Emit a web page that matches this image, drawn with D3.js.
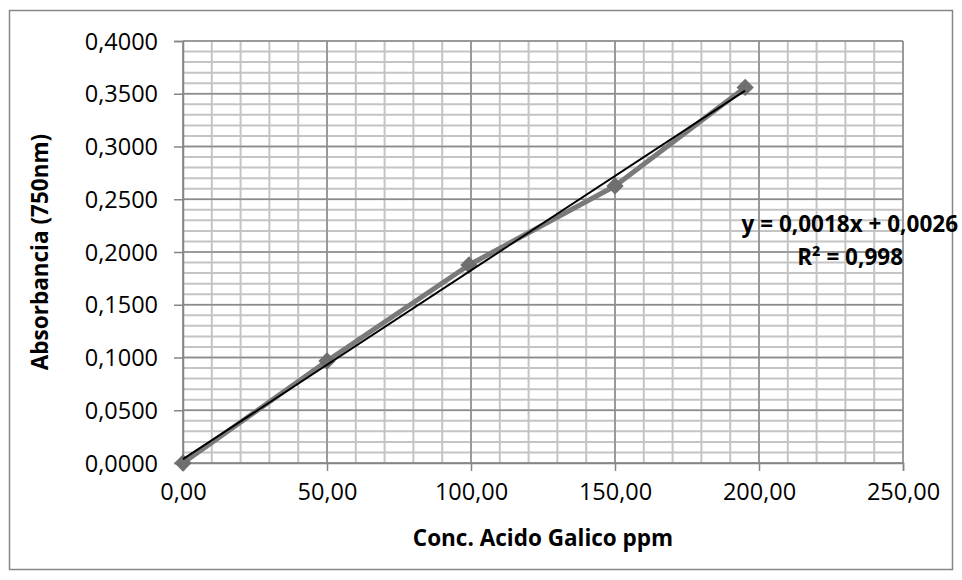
<!DOCTYPE html>
<html>
<head>
<meta charset="utf-8">
<script src="https://cdn.jsdelivr.net/npm/d3@7"></script>
<style>
  body { margin: 0; background: #fff; }
  text { font-family: "Open Sans", Lato, sans-serif; }
</style>
</head>
<body>
<svg id="chart" width="962" height="580"></svg>
<script>
const concentrations = [0, 50, 99.3, 150, 195.2];
const absorbances = [0, 0.0967, 0.1877, 0.2626, 0.356];
const xTicks = [0, 50, 100, 150, 200, 250];
const yTicks = [0, 0.05, 0.1, 0.15, 0.2, 0.25, 0.3, 0.35, 0.4];
const equationLines = ['y = 0,0018x + 0,0026', 'R\u00b2 = 0,998'];

const svg = d3.select('#chart');

// outer chart border
svg.append('rect')
  .attr('x', 9.5).attr('y', 10.5)
  .attr('width', 943).attr('height', 559)
  .attr('fill', '#fff')
  .attr('stroke', '#868686')
  .attr('stroke-width', 1.5);

const x = d3.scaleLinear().domain([0, 250]).range([183, 903]);
const y = d3.scaleLinear().domain([0, 0.4]).range([463, 41]);

const comma = s => s.replace('.', ',');

// minor grid
const grid = svg.append('g');
grid.selectAll('line.vminor')
  .data(d3.range(0, 251, 10))
  .join('line')
  .attr('class', 'vminor')
  .attr('x1', d => x(d)).attr('x2', d => x(d))
  .attr('y1', y(0)).attr('y2', y(0.4))
  .attr('stroke', '#c4c4c4').attr('stroke-width', 2);
grid.selectAll('line.hminor')
  .data(d3.range(0, 41).map(d => d / 100))
  .join('line')
  .attr('class', 'hminor')
  .attr('x1', x(0)).attr('x2', x(250))
  .attr('y1', d => y(d)).attr('y2', d => y(d))
  .attr('stroke', '#c4c4c4').attr('stroke-width', 2);

// major grid
grid.selectAll('line.vmajor')
  .data(xTicks)
  .join('line')
  .attr('class', 'vmajor')
  .attr('x1', d => x(d)).attr('x2', d => x(d))
  .attr('y1', y(0)).attr('y2', y(0.4))
  .attr('stroke', '#8c8c8c').attr('stroke-width', 1.5);
grid.selectAll('line.hmajor')
  .data(yTicks)
  .join('line')
  .attr('class', 'hmajor')
  .attr('x1', x(0)).attr('x2', x(250))
  .attr('y1', d => y(d)).attr('y2', d => y(d))
  .attr('stroke', '#8c8c8c').attr('stroke-width', 1.5);

// axes
const xAxis = d3.axisBottom(x)
  .tickValues(xTicks)
  .tickSize(8)
  .tickPadding(10)
  .tickFormat(d => comma(d3.format('.2f')(d)));
const yAxis = d3.axisLeft(y)
  .tickValues(yTicks)
  .tickSize(9)
  .tickPadding(16)
  .tickFormat(d => comma(d3.format('.4f')(d)));

const gx = svg.append('g').attr('transform', `translate(0,${y(0)})`).call(xAxis);
const gy = svg.append('g').attr('transform', `translate(${x(0)},0)`).call(yAxis);
[gx, gy].forEach(g => {
  g.select('.domain').attr('stroke', '#868686').attr('stroke-width', 1.5);
  g.selectAll('.tick line').attr('stroke', '#868686').attr('stroke-width', 1.5);
  g.selectAll('.tick text')
    .attr('fill', '#000')
    .style('font-family', '"Open Sans", sans-serif')
    .style('font-size', '23.5px');
});
gx.selectAll('.tick text').attr('dy', '0.8em');
gy.selectAll('.tick text').attr('dy', '0.35em');

// data series
const pts = concentrations.map((c, i) => [c, absorbances[i]]);
svg.append('path')
  .datum(pts)
  .attr('fill', 'none')
  .attr('stroke', '#7a7a7a')
  .attr('stroke-width', 5)
  .attr('stroke-linejoin', 'round')
  .attr('d', d3.line().x(d => x(d[0])).y(d => y(d[1])));

svg.append('g').selectAll('path')
  .data(pts)
  .join('path')
  .attr('transform', d => `translate(${x(d[0])},${y(d[1])}) rotate(45)`)
  .attr('d', d3.symbol(d3.symbolSquare, 150))
  .attr('fill', '#6f6f6f');

// least-squares trendline
const mx = d3.mean(concentrations);
const my = d3.mean(absorbances);
const slope = d3.sum(pts, d => (d[0] - mx) * (d[1] - my)) / d3.sum(pts, d => (d[0] - mx) ** 2);
const intercept = my - slope * mx;
const xMax = d3.max(concentrations);
svg.append('line')
  .attr('x1', x(0)).attr('y1', y(intercept))
  .attr('x2', x(xMax)).attr('y2', y(intercept + slope * xMax))
  .attr('stroke', '#000')
  .attr('stroke-width', 2);

// equation label
svg.append('text')
  .attr('x', 958).attr('y', 232)
  .attr('text-anchor', 'end')
  .style('font-size', '22.5px').style('font-weight', 'bold')
  .text(equationLines[0]);
svg.append('text')
  .attr('x', 903).attr('y', 265)
  .attr('text-anchor', 'end')
  .style('font-size', '22.5px').style('font-weight', 'bold')
  .text(equationLines[1]);

// axis titles
svg.append('text')
  .attr('x', x(125)).attr('y', 546)
  .attr('text-anchor', 'middle')
  .style('font-size', '22.5px').style('font-weight', 'bold')
  .text('Conc. Acido Galico ppm');
svg.append('text')
  .attr('transform', `translate(48,${y(0.2)}) rotate(-90)`)
  .attr('text-anchor', 'middle')
  .style('font-size', '22.5px').style('font-weight', 'bold')
  .text('Absorbancia (750nm)');
</script>
</body>
</html>
